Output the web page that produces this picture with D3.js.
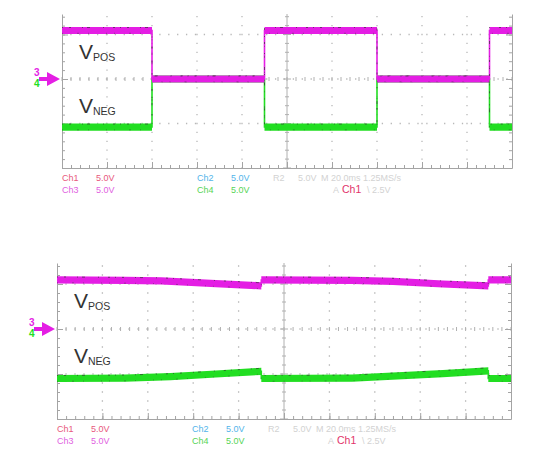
<!DOCTYPE html>
<html>
<head>
<meta charset='utf-8'>
<style>
body { margin:0; background:#fff; }
svg { display:block; font-family: "Liberation Sans", Arial, sans-serif; }
.grid line { stroke:#b8b8b8; stroke-width:1.3; }
.frame path.domain, .frame line { stroke:#a4a4a4; stroke-width:1; }
.cross line { stroke:#b0b0b0; stroke-width:1; }
.readout { font-family: "Liberation Sans Narrow", "Arial Narrow", "Liberation Sans", sans-serif; font-size:9px; }
.vlabel { fill:#333; }
</style>
</head>
<body>
<svg width="548" height="468"></svg>
<script src="https://d3js.org/d3.v7.min.js"></script>
<script>

// scope setup: 20 ms/div, 5 V/div
var timeDomain = [0, 200],
    msPerDiv = 20,
    voltsPerDiv = 5;

// top capture: outputs switching (time in ms, volts)
var switchMagenta = [[0,5.45],[40,5.45],[40,0],[90,0],[90,5.45],[140,5.45],[140,0],[190,0],[190,5.45],[200,5.45]];
var switchGreen   = [[0,-5.4],[40,-5.4],[40,0],[90,0],[90,-5.4],[140,-5.4],[140,0],[190,0],[190,-5.4],[200,-5.4]];

// bottom capture: outputs held, slow droop between refreshes
var holdMagenta = [[0,5.45],[30,5.4],[46,5.35],[70,5.05],[90,4.8],[90,5.45],[130,5.4],[148,5.3],[170,5.0],[190,4.8],[190,5.45],[200,5.45]];
var holdGreen   = [[0,-5.5],[30,-5.45],[50,-5.3],[70,-5.0],[90,-4.7],[90,-5.5],[130,-5.45],[150,-5.2],[170,-4.95],[190,-4.65],[190,-5.5],[200,-5.5]];

// readout texts
var channelNames  = ["Ch1", "Ch3", "Ch2", "Ch4"];
var channelScales = ["5.0V", "5.0V", "5.0V", "5.0V"];
var refReadout    = ["R2", "5.0V", "M 20.0ms 1.25MS/s"];
var trigReadout   = ["A", "Ch1", "\\ 2.5V"];
var traceNames    = ["POS", "NEG"];

var chColor = {Ch1:"#e8577d", Ch2:"#52b4ea", Ch3:"#df5fdf", Ch4:"#56d456"};
var magenta = "#e41ee4", green = "#22de22";

var svg = d3.select("svg");

drawPanel({left:62, right:512, top:14, center:79, bottom:168}, switchMagenta, switchGreen);
drawPanel({left:57, right:511, top:263, center:329, bottom:419}, holdMagenta, holdGreen);

function drawPanel(p, magData, greenData) {
  var g = svg.append("g");
  var pxPerDiv = (p.bottom - p.center) / 2,
      vTop = (p.center - p.top) / pxPerDiv * voltsPerDiv;

  var x = d3.scaleLinear().domain(timeDomain).range([p.left, p.right]);
  var y = d3.scaleLinear().domain([-2 * voltsPerDiv, vTop]).range([p.bottom, p.top]);
  var minorPx = pxPerDiv / 5;

  // dotted graticule
  var grid = g.append("g").attr("class", "grid");
  grid.selectAll("line.v")
    .data(d3.range(msPerDiv, 200, msPerDiv).filter(function(t) { return t != 100; }))
    .enter().append("line")
      .attr("x1", d => x(d)).attr("x2", d => x(d))
      .attr("y1", p.bottom).attr("y2", p.top)
      .attr("stroke-dasharray", "1.3 " + (minorPx - 1.3))
      .attr("stroke-dashoffset", 0.65);
  grid.selectAll("line.h")
    .data([-voltsPerDiv, 0, voltsPerDiv])
    .enter().append("line")
      .attr("x1", p.left).attr("x2", p.right)
      .attr("y1", d => y(d)).attr("y2", d => y(d))
      .attr("stroke-dasharray", "1.3 " + (minorPx - 1.3))
      .attr("stroke-dashoffset", 0.65);

  // centre cross with small ticks
  var cross = g.append("g").attr("class", "cross");
  cross.append("line")
    .attr("x1", x(100)).attr("x2", x(100)).attr("y1", p.top).attr("y2", p.bottom);
  cross.selectAll("line.cv")
    .data(d3.range(-10, Math.floor(vTop) + 1))
    .enter().append("line")
      .attr("x1", d => x(100) - (d % 5 == 0 ? 4 : 2)).attr("x2", d => x(100) + (d % 5 == 0 ? 4 : 2))
      .attr("y1", d => y(d)).attr("y2", d => y(d));
  cross.selectAll("line.ch")
    .data(d3.range(0, 201, 4))
    .enter().append("line")
      .attr("x1", d => x(d)).attr("x2", d => x(d))
      .attr("y1", y(0) - 2).attr("y2", y(0) + 2);

  // frame: left, bottom, right with inward ticks
  var minorV = d3.range(-10, Math.floor(vTop) + 1),
      majorV = minorV.filter(v => v % 5 == 0),
      minorT = d3.range(0, 201, 4),
      majorT = d3.range(0, 201, 20);

  g.append("g").attr("class", "frame").attr("transform", "translate(" + p.left + ",0)")
    .call(d3.axisLeft(y).tickValues(minorV).tickSize(-3).tickSizeOuter(0).tickFormat(""));
  g.append("g").attr("class", "frame").attr("transform", "translate(" + p.left + ",0)")
    .call(d3.axisLeft(y).tickValues(majorV).tickSize(-6).tickFormat(""))
    .select(".domain").remove();
  g.append("g").attr("class", "frame").attr("transform", "translate(" + p.right + ",0)")
    .call(d3.axisRight(y).tickValues(minorV).tickSize(-3).tickSizeOuter(0).tickFormat(""));
  g.append("g").attr("class", "frame").attr("transform", "translate(" + p.right + ",0)")
    .call(d3.axisRight(y).tickValues(majorV).tickSize(-6).tickFormat(""))
    .select(".domain").remove();
  g.append("g").attr("class", "frame").attr("transform", "translate(0," + p.bottom + ")")
    .call(d3.axisBottom(x).tickValues(minorT).tickSize(-3).tickSizeOuter(0).tickFormat(""));
  g.append("g").attr("class", "frame").attr("transform", "translate(0," + p.bottom + ")")
    .call(d3.axisBottom(x).tickValues(majorT).tickSize(-6).tickFormat(""))
    .select(".domain").remove();
  g.selectAll(".frame text").remove();

  // traces: green under magenta
  drawTrace(g, x, y, greenData, green);
  drawTrace(g, x, y, magData, magenta);

  // V_POS / V_NEG labels
  var lab = g.append("g").attr("class", "vlabel");
  [[2.3, traceNames[0]], [-3.8, traceNames[1]]].forEach(function(d) {
    var t = lab.append("text").attr("x", p.left + 17).attr("y", y(d[0]));
    t.append("tspan").attr("font-size", 21).text("V");
    t.append("tspan").attr("font-size", 10.5).attr("dy", 2).text(d[1]);
  });

  // trigger level marker
  var ty = y(0), tx = p.left - 2;
  g.append("path")
    .attr("fill", magenta)
    .attr("d", "M" + tx + "," + ty + "l-13,-7v5h-8v4h8v5z");
  g.append("text").attr("x", tx - 26).attr("y", ty - 3)
    .attr("font-size", 10).attr("font-weight", "bold").attr("fill", magenta).text("3");
  g.append("text").attr("x", tx - 26).attr("y", ty + 8)
    .attr("font-size", 10).attr("font-weight", "bold").attr("fill", green).text("4");

  // readout
  var r = g.append("g").attr("class", "readout");
  var row1 = p.bottom + 13, row2 = p.bottom + 25;
  channelNames.forEach(function(c, i) {
    var cx = p.left + (i < 2 ? 0 : 135), cy = i % 2 == 0 ? row1 : row2;
    r.append("text").attr("x", cx).attr("y", cy).attr("fill", chColor[c]).text(c);
    r.append("text").attr("x", cx + 34).attr("y", cy).attr("fill", chColor[c]).text(channelScales[i]);
  });
  var faint = "#d2d2d2";
  [0, 25, 48].forEach(function(dx, i) {
    r.append("text").attr("x", p.left + 211 + dx).attr("y", row1).attr("fill", faint).text(refReadout[i]);
  });
  r.append("text").attr("x", p.left + 271).attr("y", row2).attr("fill", faint).text(trigReadout[0]);
  r.append("text").attr("x", p.left + 280).attr("y", row2).attr("fill", "#e2336a").attr("font-size", 10.5).text(trigReadout[1]);
  r.append("text").attr("x", p.left + 305).attr("y", row2).attr("fill", faint).text(trigReadout[2]);
}

function drawTrace(g, x, y, data, col) {
  var half = 3.6;
  var band = d3.area()
    .x(d => x(d[0]))
    .y0(d => y(d[1]) + half)
    .y1(d => y(d[1]) - half);
  var line = d3.line().x(d => x(d[0])).y(d => y(d[1]));
  var edge = function(off) {
    return d3.line().x(d => x(d[0])).y(d => y(d[1]) + off);
  };

  g.append("path").attr("d", band(data)).attr("fill", col);
  g.append("path").attr("d", line(data)).attr("fill", "none").attr("stroke", col).attr("stroke-width", 1.6);
  // acquisition noise speckle along the band edges
  g.append("path").attr("d", edge(-half + 0.6)(data)).attr("fill", "none")
    .attr("stroke", "#333").attr("stroke-width", 1).attr("stroke-opacity", 0.65)
    .attr("stroke-dasharray", "1 6 2 11 1 4 3 13 1 9 2 5");
  g.append("path").attr("d", edge(half - 0.8)(data)).attr("fill", "none")
    .attr("stroke", "#333").attr("stroke-width", 1).attr("stroke-opacity", 0.4)
    .attr("stroke-dasharray", "1 14 2 9 1 17 1 7");
}

</script>
</body>
</html>
